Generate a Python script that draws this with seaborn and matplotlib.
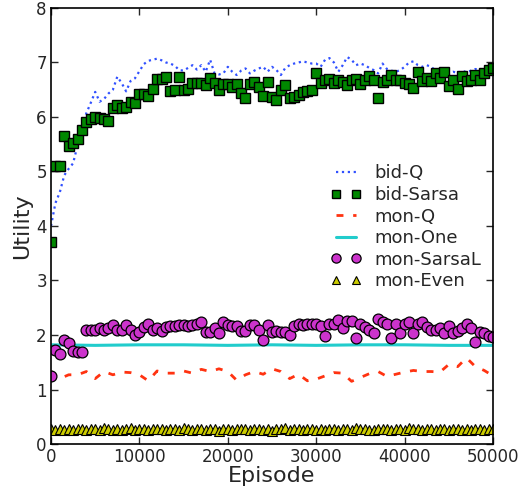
import numpy as np
import pandas as pd
import matplotlib
matplotlib.use("Agg")
import matplotlib.pyplot as plt
import seaborn as sns

# episodes sampled every 500 (markers / dotted line)
episodes = np.arange(0, 50001, 500)
# coarser sampling for mon-Q and mon-One
episodes_q = np.arange(0, 50001, 1000)
episodes_one = np.arange(0, 50001, 5000)

bid_q = [
    4.0, 4.42, 4.62, 4.93, 5.05, 5.15, 5.48, 5.8, 6.07, 6.26,
    6.46, 6.28, 6.33, 6.43, 6.5, 6.74, 6.62, 6.47, 6.66, 6.71,
    6.84, 6.97, 7.03, 7.05, 7.07, 7.04, 7.0, 6.98, 6.94, 6.86,
    6.85, 6.9, 6.95, 6.87, 6.95, 6.83, 7.05, 6.8, 6.78, 6.8,
    6.92, 6.83, 6.77, 6.85, 6.89, 6.8, 6.85, 6.89, 6.92, 6.83,
    6.92, 6.86, 6.77, 6.9, 6.95, 6.98, 7.0, 7.02, 7.0, 6.98,
    6.98, 6.92, 7.05, 7.08, 7.0, 6.83, 6.95, 7.1, 7.05, 6.95,
    6.98, 6.95, 6.9, 6.86, 6.8, 6.98, 6.88, 6.85, 6.83, 6.86,
    6.92, 7.0, 7.02, 6.95, 6.92, 6.95, 6.92, 6.85, 6.82, 6.85,
    6.8, 6.83, 6.8, 6.85, 6.82, 6.85, 6.88, 6.85, 6.88, 6.9,
    6.92,
]

bid_sarsa = [
    3.7, 5.1, 5.1, 5.65, 5.47, 5.52, 5.6, 5.76, 5.91, 5.96,
    6.0, 5.98, 5.96, 5.93, 6.16, 6.22, 6.16, 6.18, 6.28, 6.26,
    6.43, 6.43, 6.38, 6.51, 6.69, 6.69, 6.74, 6.47, 6.5, 6.73,
    6.5, 6.52, 6.62, 6.62, 6.62, 6.59, 6.72, 6.63, 6.5, 6.6,
    6.6, 6.55, 6.6, 6.44, 6.34, 6.6, 6.65, 6.55, 6.38, 6.65,
    6.36, 6.32, 6.5, 6.59, 6.34, 6.37, 6.4, 6.45, 6.48, 6.5,
    6.8, 6.62, 6.68, 6.7, 6.62, 6.68, 6.65, 6.59, 6.68, 6.69,
    6.6, 6.68, 6.75, 6.68, 6.35, 6.65, 6.68, 6.77, 6.68, 6.68,
    6.62, 6.6, 6.54, 6.82, 6.66, 6.71, 6.66, 6.8, 6.71, 6.82,
    6.57, 6.68, 6.51, 6.75, 6.66, 6.68, 6.77, 6.68, 6.81, 6.87,
    6.9,
]

mon_q = [
    1.33, 1.2, 1.27, 1.27, 1.33, 1.2, 1.33, 1.27, 1.32, 1.31,
    1.27, 1.16, 1.34, 1.3, 1.3, 1.34, 1.3, 1.37, 1.33, 1.38,
    1.33, 1.17, 1.27, 1.33, 1.28, 1.38, 1.33, 1.2, 1.28, 1.16,
    1.19, 1.25, 1.31, 1.3, 1.15, 1.22, 1.29, 1.33, 1.24, 1.28,
    1.32, 1.35, 1.33, 1.33, 1.32, 1.46, 1.42, 1.58, 1.42, 1.35,
    1.25,
]

mon_one = [1.82, 1.81, 1.82, 1.82, 1.81, 1.82, 1.81, 1.82, 1.82, 1.81, 1.81]

mon_sarsal = [
    1.24, 1.72, 1.65, 1.9, 1.85, 1.71, 1.69, 1.68, 2.09, 2.09,
    2.09, 2.12, 2.1, 2.12, 2.18, 2.1, 2.1, 2.18, 2.09, 2.0,
    2.06, 2.14, 2.2, 2.1, 2.12, 2.08, 2.14, 2.16, 2.16, 2.18,
    2.18, 2.16, 2.18, 2.2, 2.24, 2.06, 2.06, 2.12, 2.03, 2.24,
    2.18, 2.16, 2.16, 2.08, 2.08, 2.18, 2.18, 2.1, 1.91, 2.18,
    2.06, 2.08, 2.06, 2.06, 2.0, 2.16, 2.21, 2.18, 2.21, 2.21,
    2.21, 2.16, 1.98, 2.21, 2.21, 2.28, 2.12, 2.26, 2.26, 1.94,
    2.2, 2.14, 2.1, 2.03, 2.29, 2.23, 2.21, 1.94, 2.2, 2.03,
    2.21, 2.24, 2.03, 2.21, 2.24, 2.14, 2.1, 2.1, 2.12, 2.04,
    2.16, 2.03, 2.08, 2.12, 2.21, 2.12, 1.88, 2.06, 2.04, 1.98,
    1.97,
]

mon_even = [
    0.27, 0.26, 0.28, 0.26, 0.27, 0.25, 0.28, 0.27, 0.26, 0.27,
    0.28, 0.26, 0.3, 0.27, 0.26, 0.28, 0.25, 0.27, 0.29, 0.26,
    0.27, 0.28, 0.26, 0.27, 0.28, 0.27, 0.26, 0.28, 0.27, 0.26,
    0.29, 0.27, 0.26, 0.28, 0.27, 0.26, 0.27, 0.28, 0.24, 0.27,
    0.28, 0.26, 0.27, 0.28, 0.27, 0.26, 0.28, 0.27, 0.26, 0.27,
    0.24, 0.28, 0.27, 0.29, 0.26, 0.27, 0.28, 0.26, 0.27, 0.28,
    0.26, 0.27, 0.25, 0.28, 0.27, 0.26, 0.27, 0.28, 0.26, 0.3,
    0.27, 0.28, 0.26, 0.25, 0.27, 0.28, 0.27, 0.26, 0.28, 0.27,
    0.26, 0.29, 0.27, 0.28, 0.26, 0.27, 0.28, 0.26, 0.27, 0.28,
    0.26, 0.27, 0.28, 0.25, 0.27, 0.26, 0.28, 0.27, 0.26, 0.27,
    0.28,
]

x_ticks = [0, 10000, 20000, 30000, 40000, 50000]
y_ticks = [0, 1, 2, 3, 4, 5, 6, 7, 8]

sns.set_style("ticks")
plt.rcParams["font.family"] = ["DejaVu Sans"]

fig, ax = plt.subplots(figsize=(5.29, 4.97), dpi=100)
fig.subplots_adjust(left=0.0964, right=0.932, top=0.984, bottom=0.1066)

# bid-Q dotted line
sns.lineplot(
    x=episodes, y=bid_q, ax=ax,
    color="#3050ff", linestyle=":", linewidth=1.6,
    label="bid-Q"
)

# bid-Sarsa squares
sns.lineplot(
    x=episodes, y=bid_sarsa, ax=ax,
    color="#008800", linestyle="", marker="s", markersize=7.6,
    markeredgecolor="black", markeredgewidth=1.0,
    label="bid-Sarsa"
)

# mon-Q dashed line
sns.lineplot(
    x=episodes_q, y=mon_q, ax=ax,
    color="#ff3311", linestyle=(0, (2.5, 3.5)), linewidth=2,
    label="mon-Q"
)

# mon-One solid line
sns.lineplot(
    x=episodes_one, y=mon_one, ax=ax,
    color="#22cccc", linestyle="-", linewidth=2.2,
    label="mon-One"
)

# mon-SarsaL circles
sns.lineplot(
    x=episodes, y=mon_sarsal, ax=ax,
    color="#cc33cc", linestyle="", marker="o", markersize=7.8,
    markeredgecolor="black", markeredgewidth=0.9,
    label="mon-SarsaL"
)

# mon-Even triangles
sns.lineplot(
    x=episodes, y=mon_even, ax=ax,
    color="#cccc00", linestyle="", marker="^", markersize=6.8,
    markeredgecolor="black", markeredgewidth=0.8,
    label="mon-Even"
)

ax.set_xlim(0, 50000)
ax.set_ylim(0, 8)
ax.set_xticks(x_ticks)
ax.set_yticks(y_ticks)

ax.set_xlabel("Episode", fontsize=16, labelpad=0)
ax.set_ylabel("Utility", fontsize=16, labelpad=3)

ax.tick_params(
    direction="in", top=True, right=True,
    length=5, width=1, labelsize=12, pad=3
)

for spine in ax.spines.values():
    spine.set_visible(True)
    spine.set_linewidth(1.2)
    spine.set_color("black")

ax.legend(
    loc="upper left",
    bbox_to_anchor=(0.616, 0.658),
    borderaxespad=0,
    frameon=False,
    numpoints=2,
    markerscale=0.85,
    handlelength=1.71,
    handletextpad=0.7,
    labelspacing=0.2,
    fontsize=13
)

plt.savefig("out.png", dpi=100)
plt.close()
